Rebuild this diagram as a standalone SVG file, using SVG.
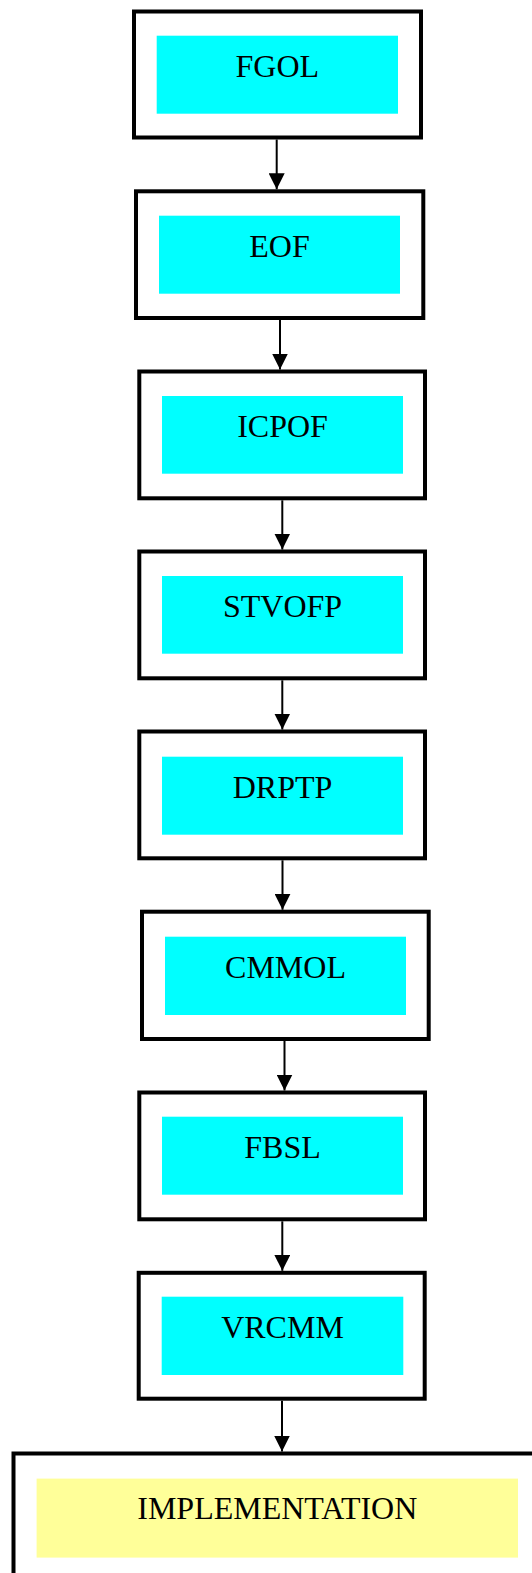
<svg xmlns="http://www.w3.org/2000/svg" width="532" height="1573" viewBox="0 0 532 1573">
<defs>
<style>
.outer{fill:#ffffff;stroke:#000000;stroke-width:4}
.inner{fill:#00ffff;stroke:none}
.impl{fill:#ffff99;stroke:none}
.lbl{font-family:"Liberation Serif","Times New Roman",serif;font-size:32px;fill:#000000;text-anchor:middle}
.edge{stroke:#000000;stroke-width:2;fill:none}
</style>
<marker id="ah" viewBox="0 0 16 16" refX="16" refY="8" markerWidth="16" markerHeight="16" markerUnits="userSpaceOnUse" orient="auto">
<path d="M0,0 L16,8 L0,16 Z" fill="#000000"/>
</marker>
</defs>
<rect width="532" height="1573" fill="#ffffff"/>
<g id="n1">
<rect class="outer" x="134" y="11.5" width="287" height="126"/>
<rect class="inner" x="156.7" y="35.7" width="241.3" height="78"/>
<text class="lbl" x="277.3" y="76.7">FGOL</text>
</g>
<g id="n2">
<rect class="outer" x="136" y="191.3" width="287.3" height="126.7"/>
<rect class="inner" x="159" y="215.7" width="241" height="78"/>
<text class="lbl" x="279.5" y="256.7">EOF</text>
</g>
<g id="n3">
<rect class="outer" x="139.3" y="371.5" width="285.7" height="126.8"/>
<rect class="inner" x="162" y="396" width="241" height="77.7"/>
<text class="lbl" x="282.5" y="437">ICPOF</text>
</g>
<g id="n4">
<rect class="outer" x="139.3" y="551.5" width="285.7" height="126.8"/>
<rect class="inner" x="162" y="576" width="241" height="77.7"/>
<text class="lbl" x="282.5" y="617">STVOFP</text>
</g>
<g id="n5">
<rect class="outer" x="139.3" y="731.5" width="285.7" height="126.8"/>
<rect class="inner" x="162" y="756.7" width="241" height="78"/>
<text class="lbl" x="282.5" y="797.7">DRPTP</text>
</g>
<g id="n6">
<rect class="outer" x="142" y="911.7" width="286.7" height="127.3"/>
<rect class="inner" x="165" y="936.7" width="241" height="78.3"/>
<text class="lbl" x="285.5" y="977.7">CMMOL</text>
</g>
<g id="n7">
<rect class="outer" x="139.3" y="1092.5" width="285.7" height="126.8"/>
<rect class="inner" x="162" y="1116.7" width="241" height="78"/>
<text class="lbl" x="282.5" y="1157.7">FBSL</text>
</g>
<g id="n8">
<rect class="outer" x="138.7" y="1272.8" width="286" height="125.9"/>
<rect class="inner" x="161.7" y="1296.7" width="241.6" height="78.3"/>
<text class="lbl" x="282.5" y="1337.7">VRCMM</text>
</g>
<g id="n9">
<rect class="outer" x="13.5" y="1453.5" width="540" height="140"/>
<rect class="impl" x="36.6" y="1478.6" width="481.4" height="79"/>
<text class="lbl" x="277.3" y="1519.3">IMPLEMENTATION</text>
</g>
<g id="edges">
<line class="edge" x1="276.7" y1="139.5" x2="276.7" y2="189.3" marker-end="url(#ah)"/>
<line class="edge" x1="280" y1="320" x2="280" y2="369.5" marker-end="url(#ah)"/>
<line class="edge" x1="282.3" y1="500.3" x2="282.3" y2="549.5" marker-end="url(#ah)"/>
<line class="edge" x1="282.3" y1="680.3" x2="282.3" y2="729.5" marker-end="url(#ah)"/>
<line class="edge" x1="282.5" y1="860.3" x2="282.5" y2="909.7" marker-end="url(#ah)"/>
<line class="edge" x1="284.5" y1="1041" x2="284.5" y2="1090.5" marker-end="url(#ah)"/>
<line class="edge" x1="282.3" y1="1221.3" x2="282.3" y2="1270.8" marker-end="url(#ah)"/>
<line class="edge" x1="282" y1="1400.7" x2="282" y2="1451.5" marker-end="url(#ah)"/>
</g>
</svg>
